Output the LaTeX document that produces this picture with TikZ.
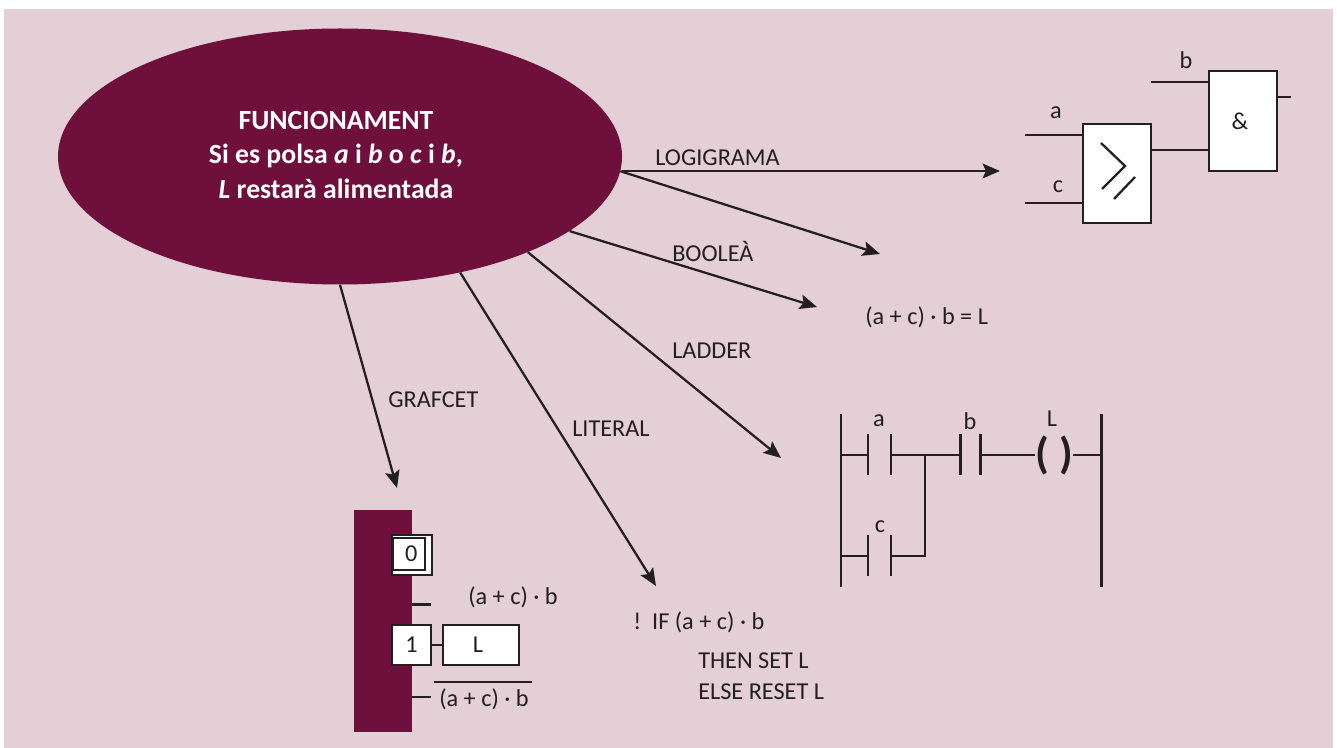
\documentclass[tikz,border=0pt]{standalone}
\usepackage{xcolor}
\usepackage{fontspec}
\setmainfont{Carlito}
\usepackage{tikz}
\usetikzlibrary{arrows.meta,shapes.geometric}
\definecolor{blush}{HTML}{E3CFD5}
\definecolor{wine}{HTML}{6F0F3B}
\definecolor{ink}{HTML}{231F20}
\tikzset{
  lbl/.style={font=\fontsize{18.2}{21}\selectfont, text=ink, inner sep=0pt},
  gatebox/.style={rectangle, draw=ink, fill=white, line width=1.8pt, inner sep=0pt, lbl},
  wire/.style={draw=ink, line width=1.7pt},
  flow/.style={-{Stealth[length=13pt,width=11pt,inset=2.5pt]}, draw=ink, line width=1.7pt}
}
\begin{document}
\begin{tikzpicture}[x=0.75pt,y=-0.75pt]
  \useasboundingbox (0,0) rectangle (1337,748);
  \fill[blush] (4,9) rectangle (1333,748);

  \node[ellipse, fill=wine, minimum width=423pt, minimum height=192pt, inner sep=0pt] (func) at (340,156.5) {};
  \node[font=\fontsize{20.8}{26}\selectfont\bfseries, text=white, align=center] (functext) at (336,155) {FUNCIONAMENT\\Si es polsa \textit{a} i \textit{b} o \textit{c} i \textit{b},\\\textit{L} restarà alimentada};

  \coordinate (tologic) at (1000,171);
  \coordinate (toblank) at (880,254);
  \coordinate (tobool) at (817,307);
  \coordinate (toladder) at (781,458);
  \coordinate (toliteral) at (656,586);
  \coordinate (tografcet) at (397,488);
  \draw[flow] (func.east |- tologic) -- (tologic);
  \draw[flow] (func.-3.6) -- (toblank);
  \draw[flow] (func.-18.4) -- (tobool);
  \draw[flow] (func.-27.3) -- (toladder);
  \draw[flow] (func.-44.8) -- (toliteral);
  \draw[flow] (func.-90.4) -- (tografcet);

  \node[lbl, anchor=west] (logilbl) at (655,158) {LOGIGRAMA};
  \node[lbl, anchor=west] (boollbl) at (672,251.5) {BOOLEÀ};
  \node[lbl, anchor=west] (ladderlbl) at (672,351) {LADDER};
  \node[lbl, anchor=west] (litlbl) at (572,429) {LITERAL};
  \node[lbl, anchor=west] (graflbl) at (388,400) {GRAFCET};
  \node[lbl, anchor=west] (booleq) at (865,317) {(a + c) · b = L};

  \node[gatebox, minimum width=51pt, minimum height=74.5pt] (orgate) at (1117,173.5) {};
  \node[gatebox, minimum width=51pt, minimum height=75pt] (andgate) at (1243,121) {\&\kern4.5pt};
  \coordinate (ain) at (1025,135);
  \coordinate (cin) at (1025,203);
  \coordinate (bin) at (1151,82);
  \coordinate (andout) at (1291,97);
  \draw[wire] (ain) -- (ain -| orgate.west);
  \draw[wire] (cin) -- (cin -| orgate.west);
  \draw[wire] (bin) -- (bin -| andgate.west);
  \draw[wire] (orgate.east |- 0,150) -- (andgate.west |- 0,150);
  \draw[wire] (andgate.east |- andout) -- (andout);
  \draw[wire] (1101,143) -- (1125,166) -- (1102,189);
  \draw[wire] (1114,199) -- (1135,177);
  \node[lbl] (alogic) at (1056,113) {a};
  \node[lbl] (clogic) at (1058,187) {c};
  \node[lbl] (blogic) at (1186,60) {b};

  \coordinate (railL) at (841,414);
  \coordinate (railLb) at (841,587);
  \coordinate (railR) at (1101.5,414);
  \coordinate (railRb) at (1101.5,587);
  \draw[wire] (railL) -- (railLb);
  \draw[wire] (railR) -- (railRb);
  \draw[wire] (868,434) -- (868,475);
  \draw[wire] (891,434) -- (891,475);
  \draw[wire] (960.5,434) -- (960.5,475);
  \draw[wire] (980.5,434) -- (980.5,475);
  \draw[wire] (868,535) -- (868,576);
  \draw[wire] (891,535) -- (891,576);
  \node[font=\fontsize{33}{33}\selectfont\bfseries, text=ink, inner sep=0pt] (coil) at (1054,455) {( )};
  \draw[wire] (841,455) -- (868,455);
  \draw[wire] (891,455) -- (960.5,455);
  \draw[wire] (980.5,455) -- (coil.west);
  \draw[wire] (coil.east) -- (1101.5,455);
  \draw[wire] (841,556) -- (868,556);
  \draw[wire] (891,556) -- (925,556) -- (925,455);
  \node[lbl] (aladder) at (879,421) {a};
  \node[lbl] (bladder) at (970,421) {b};
  \node[lbl] (cladder) at (880,527) {c};
  \node[lbl] (lladder) at (1052,419) {L};

  \fill[wine] (354,510) rectangle (412,732);
  \draw[draw=ink, fill=white, line width=1.5pt] (392,534.5) rectangle (431.5,574.5);
  \node[gatebox, minimum width=24.5pt, minimum height=24pt, line width=2pt] (step0) at (408.5,554) {\kern4pt 0};
  \node[gatebox, minimum width=29.5pt, minimum height=30pt] (step1) at (411.5,645) {1};
  \node[gatebox, minimum width=57pt, minimum height=30pt] (action) at (481,645) {L\kern4.5pt};
  \draw[wire] (step1) -- (action);
  \draw[wire] (412,604.5) -- (431,604.5);
  \draw[wire] (412,697) -- (431,697);
  \draw[wire] (434,682) -- (532,682);
  \node[lbl] (trans0) at (513,597) {(a + c) · b};
  \node[lbl] (trans1) at (484,699) {(a + c) · b};

  \node[lbl, anchor=west] (ifline) at (633,622) {!\ \ IF (a + c) · b};
  \node[lbl, anchor=west] (thenline) at (698,661) {THEN SET L};
  \node[lbl, anchor=west] (elseline) at (698,692) {ELSE RESET L};
\end{tikzpicture}
\end{document}
